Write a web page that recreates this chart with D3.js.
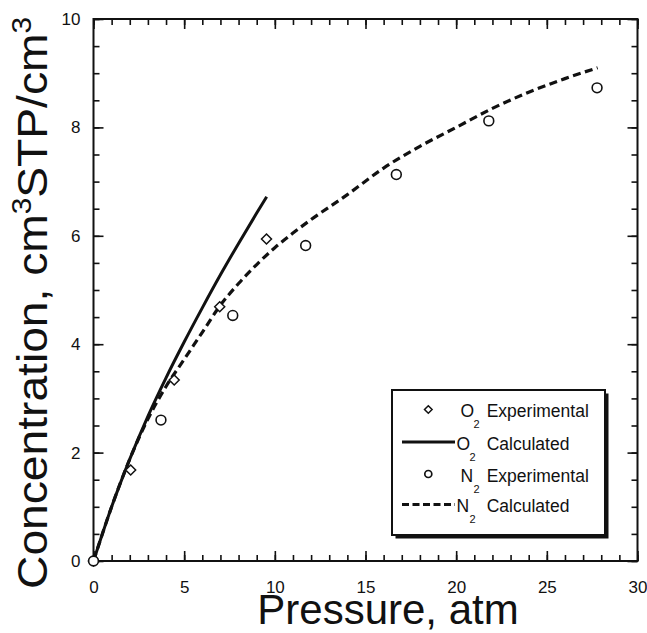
<!DOCTYPE html>
<html><head><meta charset="utf-8">
<script src="https://cdn.jsdelivr.net/npm/d3@7"></script>
<style>body{margin:0;background:#fff} svg{display:block} text{font-family:"Liberation Sans",Arial,Helvetica,sans-serif;fill:#111}</style>
</head><body><svg id="c" width="647" height="633"></svg>
<script>
// ---- data ----
const xTicks = [0, 5, 10, 15, 20, 25, 30];
const yTicks = [0, 2, 4, 6, 8, 10];
const o2ExpP = [0, 2.05, 4.45, 6.96, 9.54];
const o2ExpC = [0, 1.68, 3.34, 4.69, 5.94];
const n2ExpP = [0, 3.72, 7.68, 11.7, 16.7, 21.8, 27.77];
const n2ExpC = [0, 2.60, 4.53, 5.82, 7.13, 8.12, 8.73];
const o2CalcP = [0, 1, 2, 3, 4, 5, 6, 7, 8, 9, 9.55];
const o2CalcC = [0, 1.0, 1.88, 2.67, 3.38, 4.04, 4.67, 5.28, 5.86, 6.42, 6.72];
const n2CalcP = [0, 1, 2, 3, 4, 5, 6, 7, 8, 9, 10, 11, 12, 14, 16, 18, 20, 22, 24, 26, 27.8];
const n2CalcC = [0, 1.0, 1.88, 2.62, 3.22, 3.72, 4.22, 4.72, 5.12, 5.47, 5.78, 6.05, 6.3, 6.76, 7.25, 7.65, 8.0, 8.35, 8.65, 8.9, 9.1];
const legendGas = ["O", "O", "N", "N"];
const legendLabels = ["Experimental", "Calculated", "Experimental", "Calculated"];
const xTitle = "Pressure, atm";

// ---- layout ----
const svg = d3.select("#c");
const L = 93.5, R = 637.5, T = 19, B = 561;
const x = d3.scaleLinear().domain([0, 30]).range([L, R]);
const y = d3.scaleLinear().domain([0, 10]).range([B, T]);
const minorX = d3.range(0, 31, 1);
const minorY = d3.range(0, 10.01, 0.5);

function axis(gen, tr, vals, size, labels, pad) {
  const g = svg.append("g").attr("transform", tr)
    .call(gen.tickValues(vals).tickSize(size).tickPadding(pad)
      .tickFormat(labels ? d3.format("d") : () => ""));
  g.select(".domain").remove();
  g.selectAll(".tick line").attr("stroke", "#111").attr("stroke-width", 1.6);
  g.selectAll("text").attr("font-size", 17).attr("fill", "#222");
  return g;
}
axis(d3.axisBottom(x), `translate(0,${B})`, minorX, -6, false, 0);
axis(d3.axisBottom(x), `translate(0,${B})`, xTicks, -10, true, 20);
axis(d3.axisTop(x), `translate(0,${T})`, minorX, -6, false, 0);
axis(d3.axisTop(x), `translate(0,${T})`, xTicks, -10, false, 0);
axis(d3.axisLeft(y), `translate(${L},0)`, minorY, -6, false, 0);
axis(d3.axisLeft(y), `translate(${L},0)`, yTicks, -10, true, 13);
axis(d3.axisRight(y), `translate(${R},0)`, minorY, -6, false, 0);
axis(d3.axisRight(y), `translate(${R},0)`, yTicks, -10, false, 0);

svg.append("rect").attr("x", L).attr("y", T).attr("width", R - L).attr("height", B - T)
  .attr("fill", "none").attr("stroke", "#111").attr("stroke-width", 2);

// ---- curves ----
const line = d3.line().x(d => x(d[0])).y(d => y(d[1])).curve(d3.curveMonotoneX);
svg.append("path").datum(d3.zip(n2CalcP, n2CalcC)).attr("d", line)
  .attr("fill", "none").attr("stroke", "#111").attr("stroke-width", 3.2).attr("stroke-dasharray", "8,4.5");
svg.append("path").datum(d3.zip(o2CalcP, o2CalcC)).attr("d", line)
  .attr("fill", "none").attr("stroke", "#111").attr("stroke-width", 3);

// ---- markers ----
const diamond = (cx, cy, r) => `M${cx},${cy - r}L${cx + r},${cy}L${cx},${cy + r}L${cx - r},${cy}Z`;
svg.append("g").selectAll("path").data(d3.zip(o2ExpP, o2ExpC)).join("path")
  .attr("d", d => diamond(x(d[0]), y(d[1]), 5))
  .attr("fill", "#fff").attr("stroke", "#111").attr("stroke-width", 1.5);
svg.append("g").selectAll("circle").data(d3.zip(n2ExpP, n2ExpC)).join("circle")
  .attr("cx", d => x(d[0])).attr("cy", d => y(d[1])).attr("r", 4.9)
  .attr("fill", "#fff").attr("stroke", "#111").attr("stroke-width", 1.6);

// ---- legend ----
const lx = 392, ly = 390, lw = 213, lh = 145;
svg.append("rect").attr("x", lx + 3.5).attr("y", ly + 3.5).attr("width", lw).attr("height", lh).attr("fill", "#111");
svg.append("rect").attr("x", lx).attr("y", ly).attr("width", lw).attr("height", lh)
  .attr("fill", "#fff").attr("stroke", "#111").attr("stroke-width", 2);
const rowY = [409.5, 442, 474, 504.5];
const lg = svg.append("g");
lg.append("path").attr("d", diamond(428.3, rowY[0], 3.8)).attr("fill", "#fff").attr("stroke", "#111").attr("stroke-width", 1.5);
lg.append("line").attr("x1", 402).attr("x2", 455).attr("y1", rowY[1]).attr("y2", rowY[1]).attr("stroke", "#111").attr("stroke-width", 3);
lg.append("circle").attr("cx", 428.3).attr("cy", rowY[2]).attr("r", 3.5).attr("fill", "#fff").attr("stroke", "#111").attr("stroke-width", 1.7);
lg.append("line").attr("x1", 402).attr("x2", 455).attr("y1", rowY[3]).attr("y2", rowY[3]).attr("stroke", "#111").attr("stroke-width", 3).attr("stroke-dasharray", "7,3.5");
const gasX = [460.5, 456.5, 460.5, 456.5];
legendGas.forEach((g, i) => {
  const base = rowY[i] + 7.5;
  lg.append("text").attr("x", gasX[i]).attr("y", base).attr("font-size", 17.5).text(g);
  lg.append("text").attr("x", gasX[i] + 13).attr("y", base + 11).attr("font-size", 11).text("2");
  lg.append("text").attr("x", 486.7).attr("y", base).attr("font-size", 17.5).text(legendLabels[i]);
});

// ---- titles ----
svg.append("text").attr("x", 388).attr("y", 624).attr("text-anchor", "middle")
  .attr("font-size", 42).text(xTitle);
const yt = svg.append("text").attr("transform", "translate(47,303) rotate(-90) scale(1.1,1)")
  .attr("text-anchor", "middle").attr("font-size", 42);
yt.append("tspan").text("Concentration, cm");
yt.append("tspan").attr("font-size", 27).attr("dy", -16).text("3");
yt.append("tspan").attr("dy", 16).text("STP/cm");
yt.append("tspan").attr("font-size", 27).attr("dy", -16).text("3");
</script></body></html>
